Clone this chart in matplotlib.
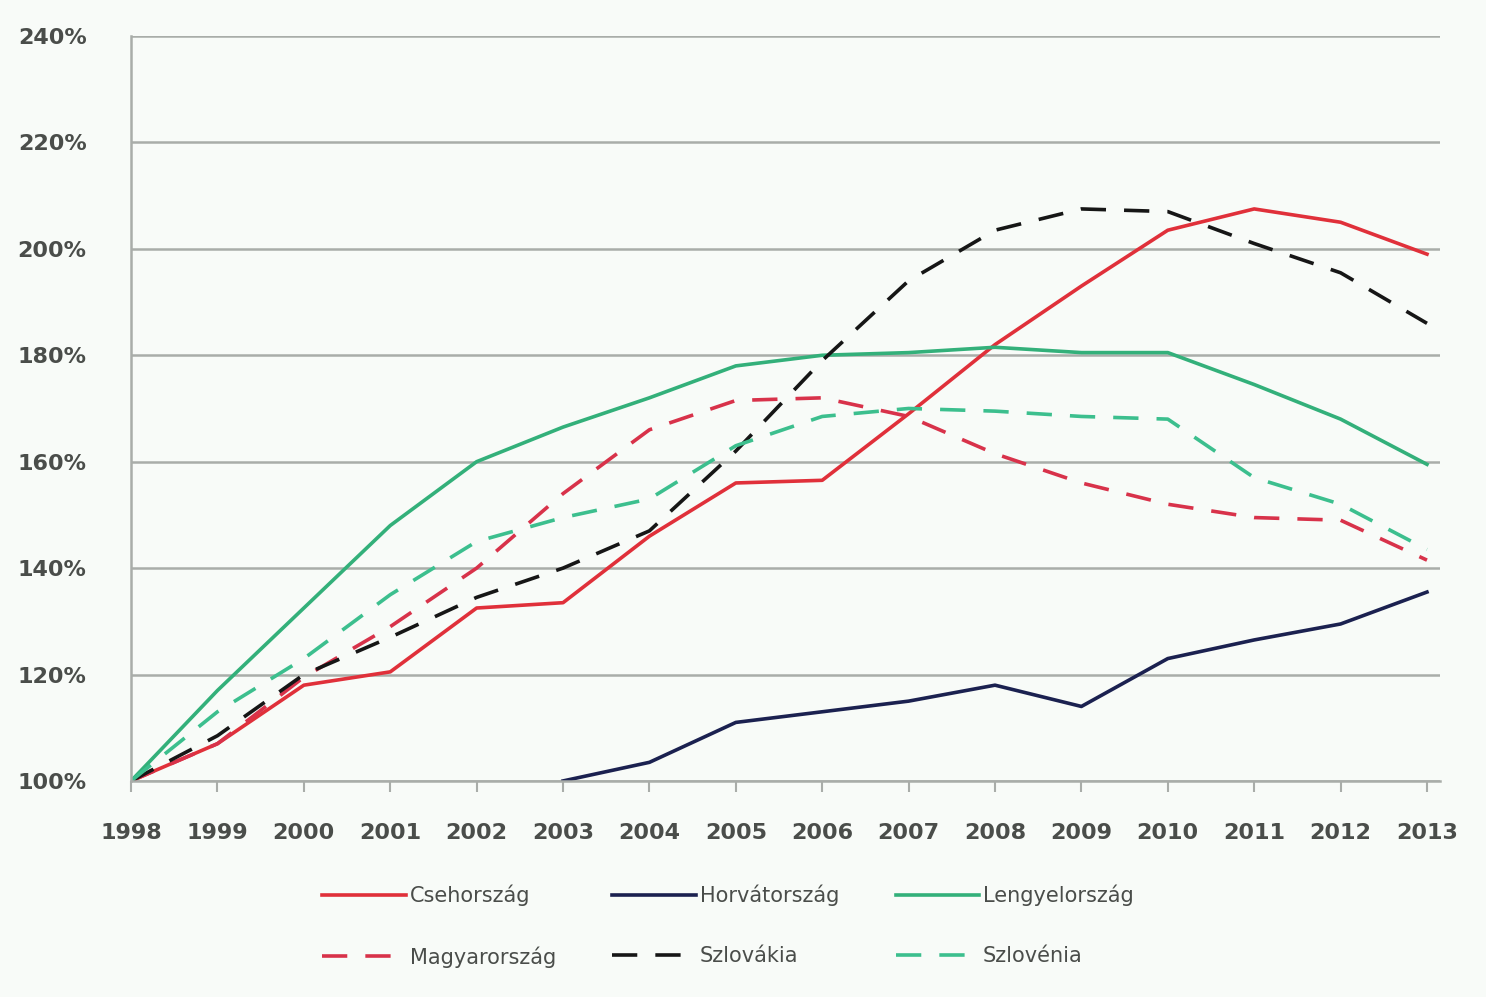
import matplotlib
matplotlib.use("Agg")
import matplotlib.pyplot as plt
from matplotlib.ticker import FuncFormatter

years = list(range(1998, 2014))

csehorszag = [100, 107, 118, 120.5, 132.5, 133.5, 146, 156, 156.5, 169, 182, 193, 203.5, 207.5, 205, 199]
horvat_years = list(range(2003, 2014))
horvatorszag = [100, 103.5, 111, 113, 115, 118, 114, 123, 126.5, 129.5, 135.5]
lengyelorszag = [100, 117, 132.5, 148, 160, 166.5, 172, 178, 180, 180.5, 181.5, 180.5, 180.5, 174.5, 168, 159.5]
magyarorszag = [100, 107, 119.5, 129, 140, 154, 166, 171.5, 172, 168.5, 161.5, 156, 152, 149.5, 149, 141.5]
szlovakia = [100, 108.5, 120, 127, 134.5, 140, 147, 162, 179, 194, 203.5, 207.5, 207, 201, 195.5, 186]
szlovenia = [100, 113, 123, 135, 145, 149.5, 153, 163, 168.5, 170, 169.5, 168.5, 168, 157, 152, 143.5]

series = [
    ("Csehország", years, csehorszag, "#e0303a", "-"),
    ("Horvátország", horvat_years, horvatorszag, "#1b2150", "-"),
    ("Lengyelország", years, lengyelorszag, "#33b07a", "-"),
    ("Magyarország", years, magyarorszag, "#d8324a", "--"),
    ("Szlovákia", years, szlovakia, "#161616", "--"),
    ("Szlovénia", years, szlovenia, "#3cbf8e", "--"),
]

bg = "#f8fbf8"
grid_c = "#a9ada9"
txt_c = "#4a4d4a"

fig = plt.figure(figsize=(14.86, 9.97), dpi=100, facecolor=bg)
ax = fig.add_axes([0.0882, 0.2167, 0.969 - 0.0882, 0.9639 - 0.2167], facecolor=bg)

lines = {}
for name, xs, ys, col, ls in series:
    kw = {"dashes": (7, 5)} if ls == "--" else {}
    (ln,) = ax.plot(xs, ys, color=col, lw=2.6, ls=ls, label=name, **kw)
    lines[name] = ln

ax.set_xlim(1998, 2013.15)
ax.set_ylim(100, 240)
ax.set_yticks(range(100, 241, 20))
ax.yaxis.set_major_formatter(FuncFormatter(lambda v, p: f"{v:.0f}%"))
ax.set_xticks(years)
ax.set_xticklabels([str(y) for y in years])
ax.grid(True, axis="y", color=grid_c, lw=1.8)
ax.set_axisbelow(True)
for s in ("top", "right"):
    ax.spines[s].set_visible(False)
for s in ("left", "bottom"):
    ax.spines[s].set_color(grid_c)
    ax.spines[s].set_linewidth(1.8)
ax.tick_params(axis="y", length=0, pad=32, labelsize=16, labelcolor=txt_c)
ax.tick_params(axis="x", length=8, width=1.5, color=grid_c, pad=22, labelsize=16, labelcolor=txt_c)
for lab in ax.get_xticklabels() + ax.get_yticklabels():
    lab.set_fontweight("bold")

order = ["Csehország", "Magyarország", "Horvátország", "Szlovákia", "Lengyelország", "Szlovénia"]
leg = fig.legend([lines[n] for n in order], order, ncol=3, loc="center",
                 bbox_to_anchor=(0.49, 0.071), frameon=False, fontsize=15,
                 handlelength=4.0, handletextpad=0.2, columnspacing=2.7, labelspacing=1.9)
for t in leg.get_texts():
    t.set_color(txt_c)

fig.savefig("out.png", dpi=100, facecolor=bg)
